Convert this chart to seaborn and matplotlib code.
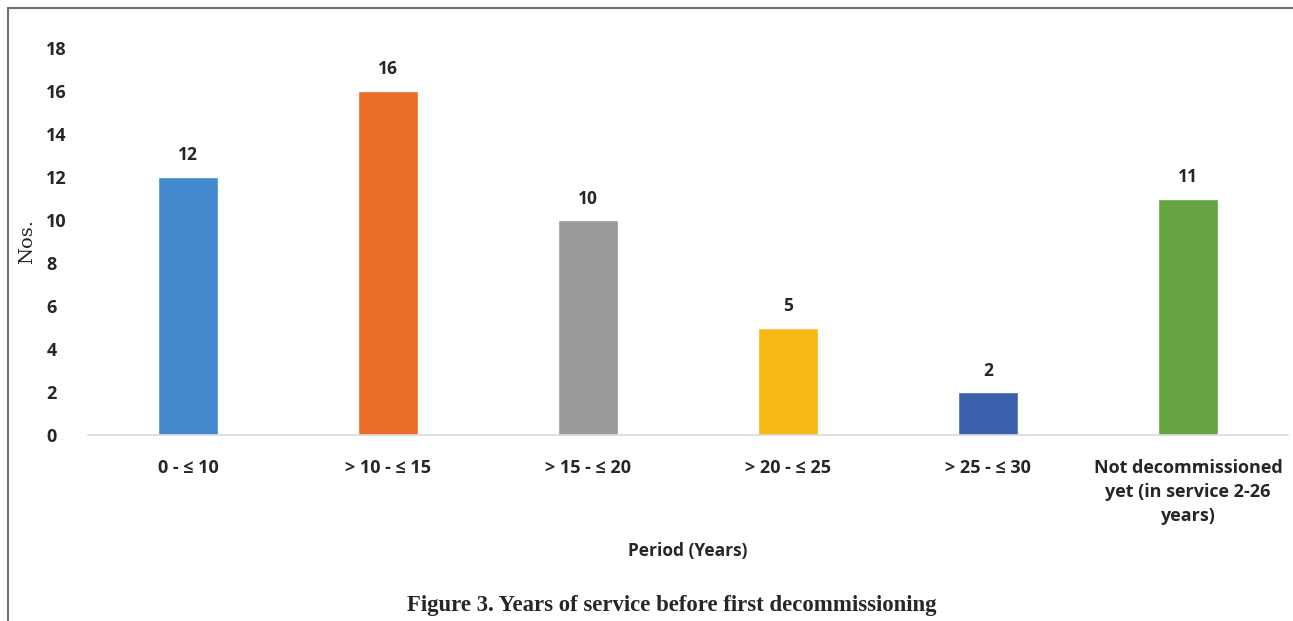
import matplotlib
matplotlib.use("Agg")
import matplotlib.pyplot as plt
import seaborn as sns
import pandas as pd
from matplotlib.lines import Line2D

periods = ["0 - \u2264 10", "> 10 - \u2264 15", "> 15 - \u2264 20", "> 20 - \u2264 25",
           "> 25 - \u2264 30", "Not decommissioned\nyet (in service 2-26\nyears)"]
counts = [12, 16, 10, 5, 2, 11]
colors = ["#4389cd", "#ea6d28", "#9a9a9a", "#f8b816", "#3d60ad", "#65a441"]

df = pd.DataFrame({"Period": periods, "Nos": counts})

sns.set_style("white")
plt.rcParams['font.family'] = ['Open Sans', 'DejaVu Sans']

fig = plt.figure(figsize=(12.93, 6.21), dpi=100)
ax = fig.add_axes([88 / 1293, 186 / 621, 1200 / 1293, 387 / 621])

sns.barplot(data=df, x="Period", y="Nos", hue="Period", palette=colors,
            width=0.3, legend=False, ax=ax, saturation=1)

ax.set_ylim(0, 18)
ax.set_xlim(-0.5, 5.5)
ax.set_yticks(range(0, 19, 2))
for s in ["top", "right", "left"]:
    ax.spines[s].set_visible(False)
ax.spines["bottom"].set_color("#d9d9d9")
ax.spines["bottom"].set_linewidth(1.2)
ax.tick_params(axis="both", length=0, labelsize=13)
ax.tick_params(axis="x", pad=17)
ax.tick_params(axis="y", pad=30)
for t in ax.get_yticklabels():
    t.set_fontweight("bold")
    t.set_horizontalalignment("left")
for t in ax.get_xticklabels():
    t.set_fontweight("bold")
    t.set_linespacing(1.45)

for c in ax.containers:
    ax.bar_label(c, padding=9, fontsize=12.5, fontweight="bold")

ax.set_xlabel("Period (Years)", fontsize=12.5, fontweight="bold", labelpad=12)
ax.set_ylabel("Nos.", fontsize=14, family="DejaVu Serif")
ax.yaxis.set_label_coords(-52 / 1200, 0.5)

fig.text(672 / 1293, 1 - 605 / 621, "Figure 3. Years of service before first decommissioning",
         ha="center", va="center", fontsize=16.4, fontweight="bold", family="Liberation Serif")

# frame lines of the figure panel
fig.add_artist(Line2D([8 / 1293, 1], [1 - 8 / 621, 1 - 8 / 621], color="#707070", lw=1.5))
fig.add_artist(Line2D([8 / 1293, 8 / 1293], [0, 1 - 8 / 621], color="#707070", lw=1.5))

fig.savefig("out.png", dpi=100)
